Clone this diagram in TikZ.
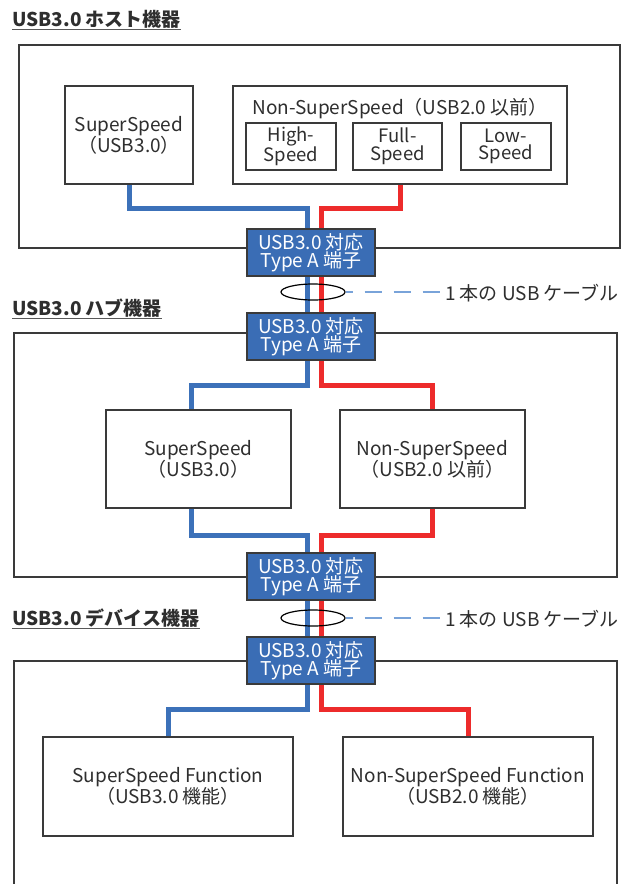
\documentclass[tikz,border=0pt]{standalone}
\usepackage{fontspec}
\setmainfont{Noto Sans CJK JP}
\usetikzlibrary{shapes.geometric,backgrounds}
\definecolor{ink}{HTML}{2E2E2E}
\definecolor{edge}{HTML}{3A3A3A}
\definecolor{portblue}{HTML}{3A6DB5}
\definecolor{ssblue}{HTML}{3C71B9}
\definecolor{nsred}{HTML}{ED2B2B}
\definecolor{cableblue}{HTML}{79A3D9}
\begin{document}
\begin{tikzpicture}[x=1pt,y=-1pt,
    frame/.style={draw=edge,line width=1.2pt},
    box/.style={draw=edge,line width=1.2pt,fill=white,align=center,inner sep=0pt,text=ink,font=\fontsize{19}{21}\selectfont},
    smallbox/.style={box,minimum width=90pt,minimum height=47pt,font=\fontsize{18.5}{17.5}\selectfont},
    port/.style={draw=edge,line width=1.2pt,fill=portblue,text=white,align=center,inner sep=0pt,
        minimum width=128pt,minimum height=47pt,font=\fontsize{19}{16.5}\selectfont},
    title/.style={anchor=base west,inner sep=0pt,text=ink,font=\bfseries\fontsize{19}{19}\selectfont},
    uline/.style={draw=ink!80,line width=1.3pt},
    cable/.style={ellipse,draw=black,line width=1.2pt,minimum width=64pt,minimum height=16pt,inner sep=0pt},
    cabletext/.style={anchor=base west,inner sep=0pt,text=ink,font=\fontsize{19}{19}\selectfont},
    cableline/.style={draw=cableblue,line width=1.2pt,dash pattern=on 17pt off 12pt,dash phase=10pt},
    ssline/.style={draw=ssblue,line width=5pt},
    nsline/.style={draw=nsred,line width=5pt}]
    \useasboundingbox (0,0) rectangle (622,884);
    % titles
    \node[title] (ttlhost) at (12,26) {USB3.0 ホスト機器};
    \node[title] (ttlhub) at (12,315) {USB3.0 ハブ機器};
    \node[title] (ttldev) at (12,625) {USB3.0 デバイス機器};
    \foreach \t in {ttlhost,ttlhub,ttldev}
        \draw[uline] ([yshift=-3.5pt]\t.base west) -- ([yshift=-3.5pt]\t.base east);
    % host
    \node[box,minimum width=128pt,minimum height=98pt] (hss) at (129,135) {SuperSpeed\\（USB3.0）};
    \node[box,minimum width=334pt,minimum height=98pt] (hnss) at (400,135) {};
    \node[anchor=base,inner sep=0pt,text=ink,font=\fontsize{19}{19}\selectfont] (hnsst) at (400,114) {Non-SuperSpeed（USB2.0 以前）};
    \node[smallbox] (hhigh) at (291,146.5) {High-\\Speed};
    \node[smallbox,minimum width=89pt] (hfull) at (397.5,146.5) {Full-\\Speed};
    \node[smallbox] (hlow) at (506,146.5) {Low-\\Speed};
    % hub
    \node[box,minimum width=185pt,minimum height=98pt] (bss) at (198.5,459) {SuperSpeed\\（USB3.0）};
    \node[box,minimum width=185pt,minimum height=98pt] (bnss) at (432.5,459) {Non-SuperSpeed\\（USB2.0 以前）};
    % device
    \node[box,minimum width=250pt,minimum height=99pt] (dss) at (168,786.5) {SuperSpeed Function\\（USB3.0 機能）};
    \node[box,minimum width=250pt,minimum height=99pt] (dnss) at (468,786.5) {Non-SuperSpeed Function\\（USB2.0 機能）};
    % connectors
    \foreach \y [count=\i] in {252.5,336.5,576.5,660.5}
        \node[port] (port\i) at (311,\y) {USB3.0 対応\\Type A 端子};
    % cables
    \node[cable] (cab1) at (313,292) {};
    \node[cable] (cab2) at (313,618) {};
    \node[cabletext] (cabt1) at (445,300) {1 本の USB ケーブル};
    \node[cabletext] (cabt2) at (445,626) {1 本の USB ケーブル};
    \draw[cableline] (cab1.east) -- (cab1.east -| cabt1.west);
    \draw[cableline] (cab2.east) -- (cab2.east -| cabt2.west);
    \begin{scope}[on background layer]
        \fill[white] (0,0) rectangle (622,884);
        \draw[frame] (19,45) rectangle (620,248);
        \draw[frame] (14,333) rectangle (617,577);
        \draw[frame] (14,890) -- (14,661) -- (617,661) -- (617,890);
        \draw[ssline] (hss.south) -- ++(0,24) -| ([xshift=-4pt]port2.south) -- ++(0,25) -| ([xshift=-7pt]bss.north);
        \draw[nsline] (hnss.south) -- ++(0,24) -| ([xshift=10.5pt]port2.south) -- ++(0,25) -| (bnss.north);
        \draw[ssline] ([xshift=-7pt]bss.south) -- ++(0,27) -| ([xshift=-4pt]port4.south) -- ++(0,25) -| (dss.north);
        \draw[nsline] (bnss.south) -- ++(0,27) -| ([xshift=10.5pt]port4.south) -- ++(0,25) -| (dnss.north);
    \end{scope}
\end{tikzpicture}
\end{document}
